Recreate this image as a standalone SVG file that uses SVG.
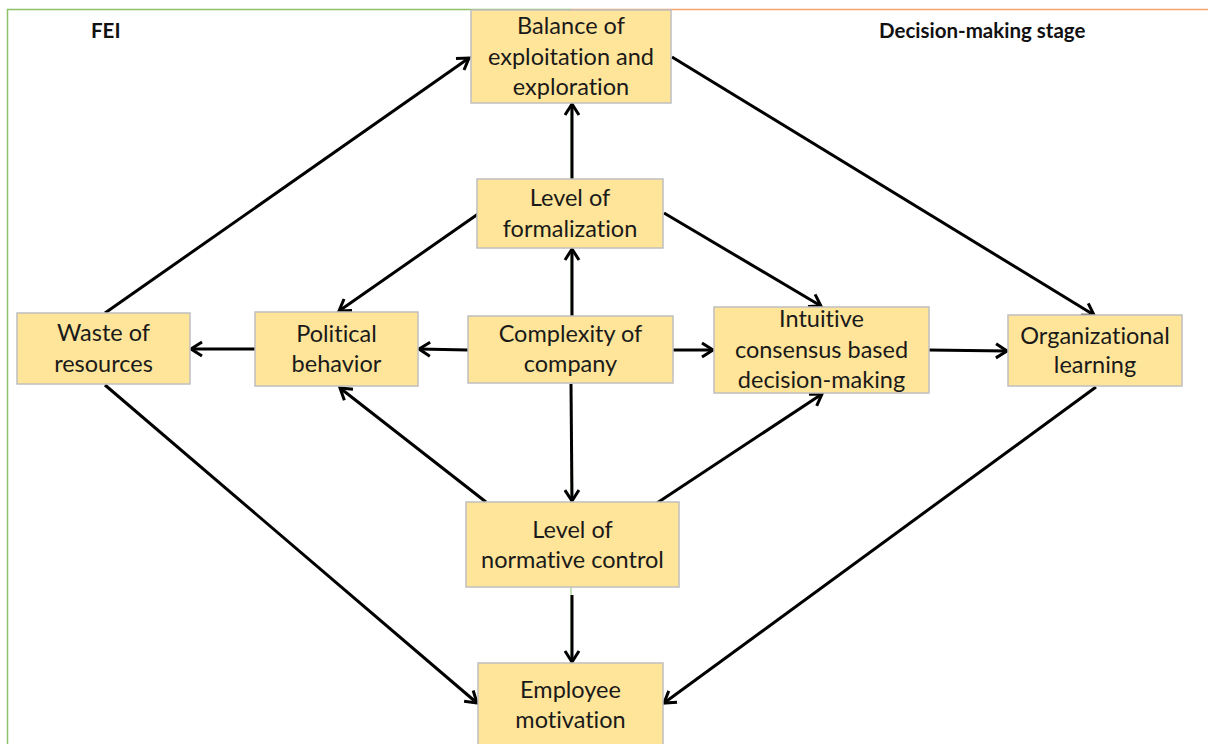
<svg xmlns="http://www.w3.org/2000/svg" width="1208" height="744" viewBox="0 0 1208 744">
  <style>
    .box { fill: #FFE599; stroke: #BFBFBF; stroke-width: 1.5; }
    .lbl { font-family: Lato, "Open Sans", sans-serif; font-size: 23.5px; fill: #1a1a1a; text-anchor: middle; font-variant-ligatures: none; }
    .hdr { font-family: Lato, "Open Sans", sans-serif; font-size: 20.5px; font-weight: bold; fill: #111; font-variant-ligatures: none; }
    .edge { stroke: #000; stroke-width: 3; fill: none; marker-end: url(#arr); }
  </style>
  <defs>
    <marker id="arr" viewBox="-14 -9 16 18" markerWidth="16" markerHeight="18" refX="0" refY="0" orient="auto" markerUnits="userSpaceOnUse" overflow="visible">
      <path d="M-11,-7 L0,0 L-11,7" fill="none" stroke="#000" stroke-width="3" stroke-linejoin="miter"/>
    </marker>
  </defs>
  <rect width="1208" height="744" fill="#fff"/>

  <!-- stage frames -->
  <g id="frames" fill="none" stroke-width="1.5">
    <polyline points="7.5,744 7.5,9.5 571,9.5" stroke="#8DC26A"/>
    <line x1="571" y1="9.5" x2="571" y2="744" stroke="#8DC26A" stroke-width="1"/>
    <line x1="571" y1="9.5" x2="1208" y2="9.5" stroke="#F4A46C"/>
  </g>
  <g id="headers">
    <text class="hdr" x="91" y="38">FEI</text>
    <text class="hdr" x="879" y="38">Decision-making stage</text>
  </g>

  <!-- connectors -->
  <g id="connectors">
    <line class="edge" x1="572" y1="316" x2="572" y2="249"/>
    <line class="edge" x1="572" y1="179" x2="572" y2="104"/>
    <line class="edge" x1="468" y1="350" x2="419" y2="349"/>
    <line class="edge" x1="255" y1="349" x2="191" y2="349"/>
    <line class="edge" x1="673" y1="350" x2="713" y2="350"/>
    <line class="edge" x1="929" y1="350" x2="1007" y2="351"/>
    <line class="edge" x1="571" y1="384" x2="572" y2="501"/>
    <line class="edge" x1="572" y1="595" x2="572" y2="662"/>
    <line class="edge" x1="478" y1="214" x2="339" y2="311"/>
    <line class="edge" x1="664" y1="213" x2="821" y2="306"/>
    <line class="edge" x1="486" y1="502" x2="340" y2="388"/>
    <line class="edge" x1="657" y1="503" x2="822" y2="394"/>
    <line class="edge" x1="105" y1="313" x2="469" y2="58"/>
    <line class="edge" x1="672" y1="57" x2="1094" y2="315"/>
    <line class="edge" x1="105" y1="385" x2="477" y2="703"/>
    <line class="edge" x1="1096" y1="387" x2="664" y2="703"/>
  </g>

  <g id="balance">
    <rect class="box" x="471" y="10" width="200" height="93"/>
    <text class="lbl" x="571" y="34">Balance of</text>
    <text class="lbl" x="571" y="65">exploitation and</text>
    <text class="lbl" x="571" y="95">exploration</text>
  </g>
  <g id="formalization">
    <rect class="box" x="477" y="179" width="186" height="69"/>
    <text class="lbl" x="570" y="206">Level of</text>
    <text class="lbl" x="570" y="237">formalization</text>
  </g>
  <g id="waste">
    <rect class="box" x="17" y="313" width="173" height="71"/>
    <text class="lbl" x="103.5" y="341">Waste of</text>
    <text class="lbl" x="103.5" y="372">resources</text>
  </g>
  <g id="political">
    <rect class="box" x="255" y="312" width="163" height="74"/>
    <text class="lbl" x="336.5" y="342">Political</text>
    <text class="lbl" x="336.5" y="372">behavior</text>
  </g>
  <g id="complexity">
    <rect class="box" x="468" y="316" width="205" height="67"/>
    <text class="lbl" x="570.5" y="342">Complexity of</text>
    <text class="lbl" x="570.5" y="372">company</text>
  </g>
  <g id="intuitive">
    <rect class="box" x="714" y="307" width="215" height="86"/>
    <text class="lbl" x="821.5" y="327">Intuitive</text>
    <text class="lbl" x="821.5" y="358">consensus based</text>
    <text class="lbl" x="821.5" y="388">decision-making</text>
  </g>
  <g id="organizational">
    <rect class="box" x="1008" y="315" width="174" height="71"/>
    <text class="lbl" x="1095" y="344">Organizational</text>
    <text class="lbl" x="1095" y="373">learning</text>
  </g>
  <g id="normative">
    <rect class="box" x="466" y="502" width="213" height="85"/>
    <text class="lbl" x="572.5" y="538">Level of</text>
    <text class="lbl" x="572.5" y="568">normative control</text>
  </g>
  <g id="employee">
    <rect class="box" x="478" y="663" width="185" height="90"/>
    <text class="lbl" x="570.5" y="698">Employee</text>
    <text class="lbl" x="570.5" y="728">motivation</text>
  </g>
</svg>
